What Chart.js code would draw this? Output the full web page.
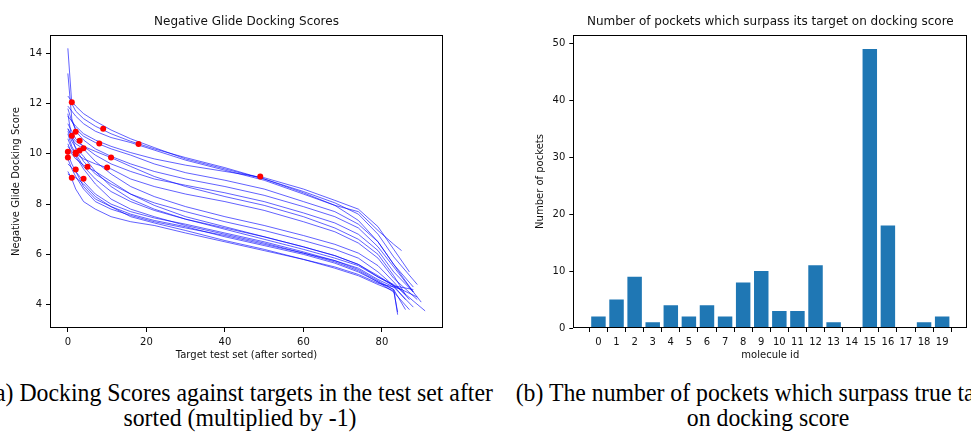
<!DOCTYPE html>
<html><head><meta charset="utf-8">
<script src="https://cdn.jsdelivr.net/npm/chart.js@4.4.0/dist/chart.umd.min.js"></script>
<style>
html,body{margin:0;padding:0;background:#fff;overflow:hidden;width:971px;height:434px;}
#ca{position:absolute;left:0;top:0;}
#cb{position:absolute;left:500px;top:0;}
.cap{position:absolute;width:700px;font-family:"Liberation Serif","Times New Roman",serif;font-size:24.5px;line-height:24.5px;text-align:center;white-space:nowrap;color:#000;top:381px;transform:scaleX(0.97);transform-origin:50% 0;}
</style></head>
<body>
<canvas id="ca" width="493" height="370"></canvas>
<canvas id="cb" width="471" height="370"></canvas>
<div class="cap" style="left:-110px">(a) Docking Scores against targets in the test set after<br>sorted (multiplied by -1)</div>
<div class="cap" style="left:418px">(b) The number of pockets which surpass true targets<br>on docking score</div>
<script>
// ---- data ----
const moleculeIds = [0,1,2,3,4,5,6,7,8,9,10,11,12,13,14,15,16,17,18,19];
const pocketCounts = [2,5,9,1,4,2,4,2,8,10,3,3,11,1,0,49,18,0,1,2];
const targetScores = [10.88,9.49,11.0,12.05,10.22,9.99,9.01,10.05,10.41,9.46,10.52,10.13,9.86,10.72,10.08,9.1,10.39,9.86,9.05,9.38];
// sorted pocket scores (negated), read at these ranks
const lineX = [0,1,2,4,7,11,16,22,30,40,50,60,68,74,79,83];
const scoreLines = [
  [14.2,12.0,11.7,11.4,11.1,10.8,10.5,10.2,9.85,9.45,9.0,8.5,8.05,7.6,6.8,5.9],
  [12.3,12.1,11.9,11.6,11.3,10.95,10.6,10.25,9.8,9.4,9.0,8.45,7.95,7.35,6.5,5.6],
  [11.9,11.7,11.5,11.2,10.9,10.65,10.45,10.15,9.75,9.35,8.95,8.4,7.95,7.7,6.95,6.4],
  [11.5,11.3,11.1,10.8,10.55,10.3,10.05,9.8,9.55,9.3,9.05,8.6,8.15,7.8,7.1,6.2],
  [11.8,11.3,11.0,10.7,10.45,10.2,9.95,9.6,9.25,8.95,8.6,8.1,7.7,7.2,6.5,5.6],
  [13.2,11.4,10.9,10.55,10.2,9.9,9.6,9.3,9.0,8.7,8.35,7.9,7.5,7.05,6.3,5.5],
  [11.2,10.9,10.6,10.3,9.95,9.6,9.3,9.0,8.75,8.45,8.1,7.65,7.25,6.8,6.15,5.3],
  [11.0,10.7,10.5,10.3,10.1,9.85,9.5,9.1,8.7,8.3,7.95,7.5,7.05,6.6,6.0,5.15],
  [10.8,10.3,10.0,9.8,9.6,9.4,9.0,8.7,8.4,8.1,7.75,7.3,6.9,6.45,5.85,5.05],
  [11.6,10.6,10.4,10.2,9.7,9.2,8.7,8.3,7.9,7.5,7.15,6.75,6.4,6.05,5.55,4.9],
  [11.0,10.7,10.2,9.7,9.2,8.8,8.4,8.05,7.7,7.3,6.95,6.55,6.2,5.85,5.3,4.75],
  [10.0,9.6,9.3,8.9,8.4,8.0,7.7,7.45,7.2,6.85,6.5,6.1,5.75,5.4,4.95,4.6],
  [9.8,9.4,9.1,8.6,8.1,7.8,7.55,7.3,7.05,6.75,6.4,6.05,5.7,5.35,4.9,4.5],
  [9.3,9.0,8.6,8.1,7.8,7.5,7.3,7.15,6.85,6.5,6.15,5.8,5.5,5.2,4.85,4.7],
  [10.3,10.1,9.9,9.4,8.8,8.2,7.8,7.5,7.15,6.8,6.45,6.05,5.75,5.45,5.0,4.7],
  [10.6,10.2,10.0,9.5,9.0,8.5,8.1,7.75,7.4,7.0,6.6,6.2,5.85,5.55,5.1,4.8],
  [10.9,10.5,10.25,9.9,9.3,8.7,8.2,7.8,7.4,7.05,6.7,6.3,5.95,5.6,5.15,4.75],
  [9.6,9.45,9.3,8.7,8.2,7.9,7.6,7.35,7.1,6.7,6.35,6.0,5.65,5.3,4.9,4.6],
  [9.2,9.1,9.05,8.8,8.3,7.9,7.5,7.25,6.95,6.55,6.2,5.8,5.45,5.15,4.8,4.55],
  [10.4,10.0,9.8,9.55,9.3,8.9,8.4,7.95,7.5,7.1,6.7,6.3,5.95,5.6,5.1,4.75]
];
const lineEndX = [89,88,85,87,88,90,88,86,89,87,88,84,87,85,88,91,86,86,84,89];
const lineEndY = [4.8,4.5,6.15,5.3,4.7,4.1,4.5,4.4,4.2,4.2,4.6,3.6,3.8,4.6,3.9,3.75,4.2,3.8,3.7,4.3];
const scoreTicks = [4,6,8,10,12,14];
const rankTicks = [0,20,40,60,80];
const countTicks = [0,10,20,30,40,50];

// ---- helpers ----
const BLACK = '#000';
const tickFont = {family:'DejaVu Sans', size:10};
const frame = {
  id:'frame',
  afterDraw(chart){
    const a = chart.chartArea, c = chart.ctx;
    c.save(); c.strokeStyle = '#000'; c.lineWidth = 1;
    c.strokeRect(Math.round(a.left)+0.5, Math.round(a.top)+0.5, Math.round(a.right-a.left)-1, Math.round(a.bottom-a.top)-1);
    c.restore();
  }
};
function axis(min, max, tickVals, titleText, isX, fitSize, titlePad){
  return {
    type:'linear', min, max,
    afterBuildTicks: s => { s.ticks = tickVals.map(v => ({value:v})); },
    afterFit: s => { if (isX) s.height = fitSize; else s.width = fitSize; },
    grid:{drawOnChartArea:false, drawTicks:true, tickLength:4, color:BLACK, lineWidth:1},
    border:{display:false},
    ticks:{font:tickFont, color:'#111', padding:4, maxRotation:0, autoSkip:false},
    title:{display:true, text:titleText, color:'#111', font:{family:'DejaVu Sans', size:10},
           padding: isX ? {top:0,bottom:titlePad} : {top:titlePad,bottom:0}}
  };
}
function titleOpt(text){
  return {display:true, text, fullSize:false, color:'#111', font:{family:'DejaVu Sans', size:12, weight:'normal'}, padding:{top:15,bottom:5.6}};
}

// ---- chart (a) ----
const lineSets = scoreLines.map((vals, i) => ({
  type:'scatter', showLine:true, order:1,
  data: lineX.map((x, k) => ({x, y: vals[k]})).concat([{x: lineEndX[i], y: lineEndY[i]}]),
  borderColor:'rgba(0,0,255,0.62)', borderWidth:1, pointRadius:0, tension:0, fill:false
}));
const redSet = {
  type:'scatter', order:0,
  data: pocketCounts.map((c, i) => ({x: c, y: targetScores[i]})),
  backgroundColor:'#ff0000', borderWidth:0, pointRadius:3, showLine:false
};
new Chart(document.getElementById('ca'), {
  type:'scatter',
  data:{datasets:[redSet].concat(lineSets)},
  options:{
    responsive:false, animation:false, devicePixelRatio:1,
    layout:{padding:{left:0,right:50,top:0,bottom:0}},
    plugins:{legend:{display:false}, tooltip:{enabled:false}, title:titleOpt('Negative Glide Docking Scores')},
    scales:{
      x: axis(-4.55, 95.55, rankTicks, 'Target test set (after sorted)', true, 42, 9),
      y: axis(3.07, 14.73, scoreTicks, 'Negative Glide Docking Score', false, 50, 10.5)
    }
  },
  plugins:[frame]
});

// ---- chart (b) ----
new Chart(document.getElementById('cb'), {
  type:'bar',
  data:{datasets:[{
    data: moleculeIds.map((id, i) => ({x:id, y:pocketCounts[i]})),
    backgroundColor:'#1f77b4', borderWidth:0, barPercentage:1, categoryPercentage:0.8
  }]},
  options:{
    responsive:false, animation:false, devicePixelRatio:1,
    layout:{padding:{left:0,right:3.7,top:0,bottom:0}},
    plugins:{legend:{display:false}, tooltip:{enabled:false}, title:titleOpt('Number of pockets which surpass its target on docking score')},
    scales:{
      x: Object.assign(axis(-1.39, 20.39, moleculeIds, 'molecule id', true, 42, 9), {offset:false}),
      y: axis(0, 51.45, countTicks, 'Number of pockets', false, 73.3, 34.7)
    }
  },
  plugins:[frame]
});
</script>
</body></html>
